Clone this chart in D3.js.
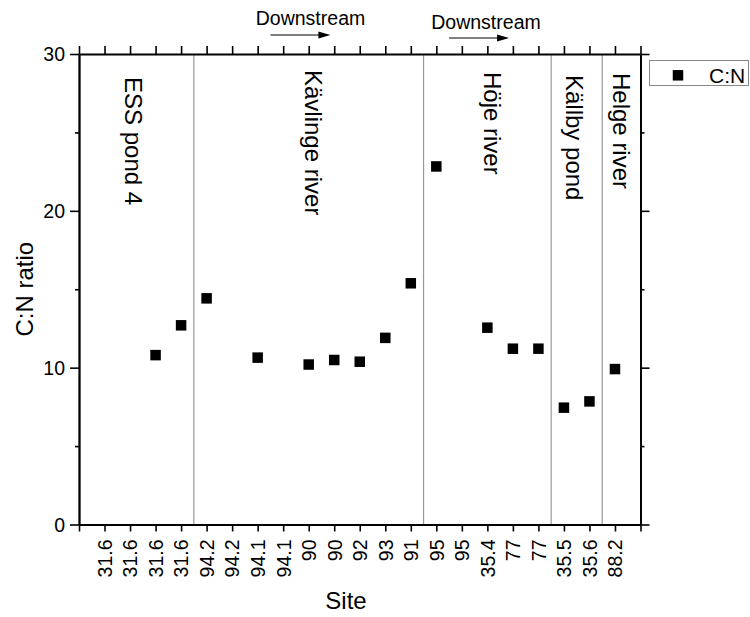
<!DOCTYPE html>
<html>
<head>
<meta charset="utf-8">
<script src="https://cdn.jsdelivr.net/npm/d3@7"></script>
<style>
  html, body { margin: 0; padding: 0; background: #fff; }
  svg { display: block; font-family: "Liberation Sans", Arial, sans-serif; }
</style>
</head>
<body>
<svg id="chart" width="750" height="617"></svg>
<script>
// ---- data ----
const sites = ["31.6","31.6","31.6","31.6","94.2","94.2","94.1","94.1","90","90","92","93","91","95","95","35.4","77","77","35.5","35.6","88.2"];
const cnRatio = [null, null, 10.8, 12.7, 14.42, null, 10.64, null, 10.2, 10.49, 10.38, 11.9, 15.38, 22.83, null, 12.55, 11.21, 11.21, 7.45, 7.85, 9.91];
const yMajorTicks = [0, 10, 20, 30];
const yMinorTicks = [5, 15, 25];
const regionNames = ["ESS pond 4", "Kävlinge river", "Höje river", "Källby pond", "Helge river"];
const regionBoundaries = [4.5, 13.5, 18.5, 20.5];
const regionLabelCenters = [2.12, 9.18, 16.2, 19.4, 21.25];
const regionLabelTops = [77, 70, 72, 75, 73];
const downstreamLabels = ["Downstream", "Downstream"];
const downstreamArrowSpans = [[7.5, 9.85], [14.5, 16.85]];
const seriesName = "C:N";
const xTitle = "Site";
const yTitle = "C:N ratio";

// ---- layout ----
const L = 79, R = 640.5, T = 54, B = 524.5;
const svg = d3.select("#chart");
const x = d3.scaleLinear().domain([0, sites.length + 1]).range([L, R]);
const y = d3.scaleLinear().domain([0, 30]).range([B, T]);
const tickFont = 19.5;

// separators
svg.append("g").selectAll("line").data(regionBoundaries).join("line")
  .attr("x1", d => x(d)).attr("x2", d => x(d))
  .attr("y1", T).attr("y2", B)
  .attr("stroke", "#999").attr("stroke-width", 1.2);

// region labels (rotated clockwise)
svg.append("g").selectAll("text").data(regionNames).join("text")
  .attr("transform", (d, i) => `translate(${x(regionLabelCenters[i])},${regionLabelTops[i]}) rotate(90)`)
  .attr("dy", "0.35em")
  .attr("text-anchor", "start")
  .attr("font-size", 24)
  .attr("fill", "#000")
  .text(d => d);

// axes
const allTicks = d3.range(0, sites.length + 2);
const gBottom = svg.append("g").attr("transform", `translate(0,${B})`)
  .call(d3.axisBottom(x).tickValues(allTicks).tickSize(7).tickSizeOuter(0)
    .tickFormat(d => (d >= 1 && d <= sites.length) ? sites[d - 1] : ""));
gBottom.selectAll("text")
  .attr("transform", "rotate(-90)")
  .attr("text-anchor", "end")
  .attr("x", -15).attr("y", 0).attr("dy", "0.35em")
  .attr("font-size", tickFont).attr("fill", "#000");

svg.append("g").attr("transform", `translate(0,${T})`)
  .call(d3.axisTop(x).tickValues(allTicks).tickSize(8).tickSizeOuter(0).tickFormat(""));

const gLeft = svg.append("g").attr("transform", `translate(${L},0)`)
  .call(d3.axisLeft(y).tickValues(yMajorTicks).tickSize(9).tickSizeOuter(0).tickPadding(5));
gLeft.selectAll("text").attr("font-size", tickFont).attr("fill", "#000").attr("dy", "0.35em");
svg.append("g").attr("transform", `translate(${L},0)`)
  .call(d3.axisLeft(y).tickValues(yMinorTicks).tickSize(4).tickSizeOuter(0).tickFormat(""));

svg.append("g").attr("transform", `translate(${R},0)`)
  .call(d3.axisRight(y).tickValues(yMajorTicks).tickSize(9).tickSizeOuter(0).tickFormat(""));
svg.append("g").attr("transform", `translate(${R},0)`)
  .call(d3.axisRight(y).tickValues(yMinorTicks).tickSize(4).tickSizeOuter(0).tickFormat(""));

svg.selectAll(".domain").attr("stroke", "#000").attr("stroke-width", 1.8);
svg.selectAll(".tick line").attr("stroke", "#000").attr("stroke-width", 1.6);

// points
const pts = cnRatio.map((v, i) => ({ i: i + 1, v })).filter(d => d.v !== null);
const ms = 10.5;
svg.append("g").selectAll("rect").data(pts).join("rect")
  .attr("x", d => x(d.i) - ms / 2).attr("y", d => y(d.v) - ms / 2)
  .attr("width", ms).attr("height", ms).attr("fill", "#000");

// axis titles
svg.append("text").attr("x", 346).attr("y", 609)
  .attr("text-anchor", "middle").attr("font-size", 24).attr("fill", "#000").text(xTitle);
svg.append("text").attr("transform", `translate(33,${(T + B) / 2}) rotate(-90)`)
  .attr("text-anchor", "middle").attr("font-size", 24).attr("fill", "#000").text(yTitle);

// downstream annotations
const dsText = [[310.5, 25], [486, 29]];
const dsY = [35, 38];
downstreamLabels.forEach((lab, k) => {
  svg.append("text").attr("x", dsText[k][0]).attr("y", dsText[k][1])
    .attr("text-anchor", "middle").attr("font-size", 19.5).attr("fill", "#000").text(lab);
  const x0 = x(downstreamArrowSpans[k][0]), x1 = x(downstreamArrowSpans[k][1]);
  svg.append("line").attr("x1", x0).attr("x2", x1 - 8).attr("y1", dsY[k]).attr("y2", dsY[k])
    .attr("stroke", "#000").attr("stroke-width", 1);
  svg.append("path")
    .attr("d", `M${x1},${dsY[k]} L${x1 - 12},${dsY[k] - 3.5} L${x1 - 12},${dsY[k] + 3.5} Z`)
    .attr("fill", "#000");
});

// legend
const lg = svg.append("g");
lg.append("rect").attr("x", 649.5).attr("y", 60.5).attr("width", 99).attr("height", 25)
  .attr("fill", "#fff").attr("stroke", "#888").attr("stroke-width", 1);
lg.append("rect").attr("x", 678 - ms / 2).attr("y", 75.3 - ms / 2).attr("width", ms).attr("height", ms).attr("fill", "#000");
lg.append("text").attr("x", 709).attr("y", 82.5).attr("font-size", 21).attr("fill", "#000").text(seriesName);
</script>
</body>
</html>
